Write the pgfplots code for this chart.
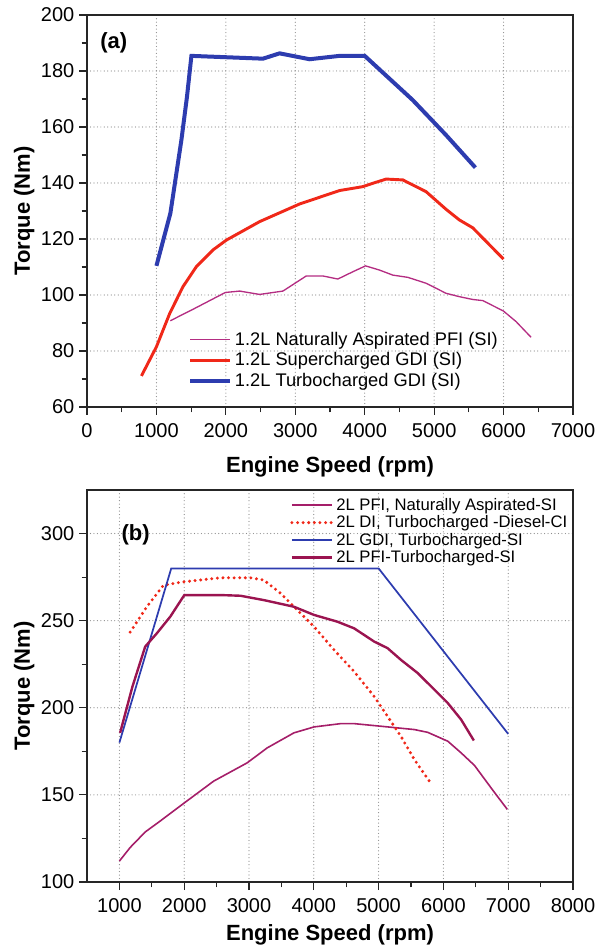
\documentclass[border=0pt]{standalone}
\usepackage{fontspec}
\setmainfont{Liberation Sans}
\usepackage{pgfplots}
\pgfplotsset{compat=1.18}
\definecolor{naA}{RGB}{180,45,130}
\definecolor{scA}{RGB}{240,40,25}
\definecolor{tcA}{RGB}{45,60,175}
\definecolor{naB}{RGB}{165,30,105}
\definecolor{pfiB}{RGB}{155,20,80}
\definecolor{gridc}{RGB}{140,140,140}
\pgfplotsset{
  common/.style={
    scale only axis,
    width=364.5pt, height=294pt,
    axis line style={line width=0.9pt, black!85},
    tick align=outside,
    major tick length=6pt, minor tick length=4pt,
    minor x tick num=1, minor y tick num=1,
    grid=major,
    grid style={draw=gridc, line width=0.9pt, line cap=round, dash pattern=on 0pt off 2.6pt},
    ticklabel style={font=\fontsize{15}{18}\selectfont},
    xticklabel style={yshift=-2.5pt},
    /pgf/number format/assume math mode=true,
    /pgf/number format/1000 sep={},
    label style={font=\fontsize{16.5}{19}\selectfont\bfseries},
    xlabel={Engine Speed (rpm)},
    ylabel={Torque (Nm)},
    legend cell align=left,
    legend image code/.code={\draw[#1] (0pt,0pt) -- (30pt,0pt);},
    xtick pos=left, ytick pos=left,
  },
  every major tick/.append style={line width=0.8pt, black!85},
  every minor tick/.append style={line width=0.8pt, black!85},
}
\begin{document}
\begin{tikzpicture}
\useasboundingbox (0,0) rectangle (450.75pt,709.5pt);
% ---------------- (a)
\begin{axis}[common,
  at={(65.25pt,404.25pt)}, anchor=south west,
  xmin=0, xmax=7000, ymin=60, ymax=200,
  xtick={0,1000,...,7000}, ytick={60,80,...,200},
  ylabel style={yshift=-2pt},
  xlabel style={yshift=-8pt},
  legend style={at={(0.205,0.202)}, anchor=north west, draw=none, fill=none,
    font=\fontsize{13.7}{16}\selectfont, row sep=0pt, inner sep=1pt},
]
\addplot[naA, line width=1pt] coordinates {
(1200,90.8) (1527,94.9) (1993,100.9) (2199,101.4) (2486,100.2) (2822,101.4)
(3158,106.8) (3397,106.8) (3613,105.7) (3829,108.3) (4012,110.4) (4213,108.9)
(4405,107.1) (4621,106.3) (4884,104.2) (5172,100.6) (5364,99.4) (5556,98.4)
(5700,98.0) (5997,94.3) (6180,90.5) (6396,84.9)};
\addlegendentry{1.2L Naturally Aspirated PFI (SI)}
\addplot[scA, line width=2.2pt] coordinates {
(784,71.1) (1000,81.5) (1191,93.4) (1383,103.0) (1575,110.1) (1815,116.1)
(2007,119.6) (2486,126.2) (3062,132.5) (3637,137.3) (3973,138.7) (4117,139.9)
(4309,141.4) (4549,141.1) (4692,139.3) (4884,136.9) (5172,130.6) (5364,126.8)
(5556,124.0) (6000,112.8)};
\addlegendentry{1.2L Supercharged GDI (SI)}
\addplot[tcA, line width=3pt] coordinates {
(1000,110.4) (1201,129.2) (1360,155.4) (1440,170.8) (1504,185.4) (2534,184.4)
(2774,186.3) (3206,184.2) (3637,185.4) (4000,185.4) (4692,169.6) (5172,157.1)
(5594,145.5)};
\addlegendentry{1.2L Turbocharged GDI (SI)}
\node[font=\fontsize{16.5}{19}\selectfont\bfseries] at (rel axis cs:0.055,0.929) {(a)};
\end{axis}
% ---------------- (b)
\begin{axis}[common,
  at={(65.25pt,48pt)}, anchor=south west,
  xmin=500, xmax=8000, ymin=100, ymax=325,
  xtick={1000,2000,...,8000}, ytick={100,150,...,300},
  ylabel style={yshift=-2pt},
  xlabel style={yshift=-2.5pt},
  legend style={at={(0.415,0.99)}, anchor=north west, draw=none, fill=none,
    font=\fontsize{12.5}{14}\selectfont, row sep=-1.5pt, inner sep=1pt},
]
\addplot[naB, line width=1.2pt] coordinates {
(1000,112) (1166,119.8) (1398,128.7) (1630,135) (1991,145.1) (2455,157.9)
(2972,168.4) (3282,177) (3693,185.6) (4003,189) (4416,190.9) (4622,190.9)
(5036,189.4) (5551,187.5) (5758,185.9) (6068,180.8) (6274,174.1) (6480,166.9)
(6790,151.3) (6986,141.7)};
\addlegendentry{2L PFI, Naturally Aspirated-SI}
\addplot[scA, line width=2.5pt, line cap=round, dash pattern=on 0pt off 4.2pt] coordinates {
(1166,243.4) (1424,258) (1681,270.4) (1991,272.3) (2559,274.6) (3023,274.6)
(3229,273.3) (3488,265.7) (3746,256.1) (4003,246.6) (4313,233.2) (4622,220.8)
(4932,206.5) (5345,183.6) (5551,170.3) (5783,157.9)};
\addlegendentry{2L DI, Turbocharged -Diesel-CI}
\addplot[tcA, line width=1.3pt] coordinates {
(1000,180) (1800,280) (5000,280) (7000,185)};
\addlegendentry{2L GDI, Turbocharged-SI}
\addplot[pfiB, line width=1.8pt] coordinates {
(1011,185.6) (1200,212) (1398,235.1) (1579,242.8) (1785,252.3) (2002,264.7)
(2559,264.7) (2868,264.3) (3229,261.8) (3693,258) (4003,253.3) (4365,249.4)
(4622,245.6) (4932,238) (5139,234.2) (5345,227.5) (5604,219.9) (5861,210.4)
(6068,202.7) (6274,193.2) (6470,181.2)};
\addlegendentry{2L PFI-Turbocharged-SI}
\node[font=\fontsize{16.5}{19}\selectfont\bfseries] at (rel axis cs:0.1,0.885) {(b)};
\end{axis}
\end{tikzpicture}
\end{document}
